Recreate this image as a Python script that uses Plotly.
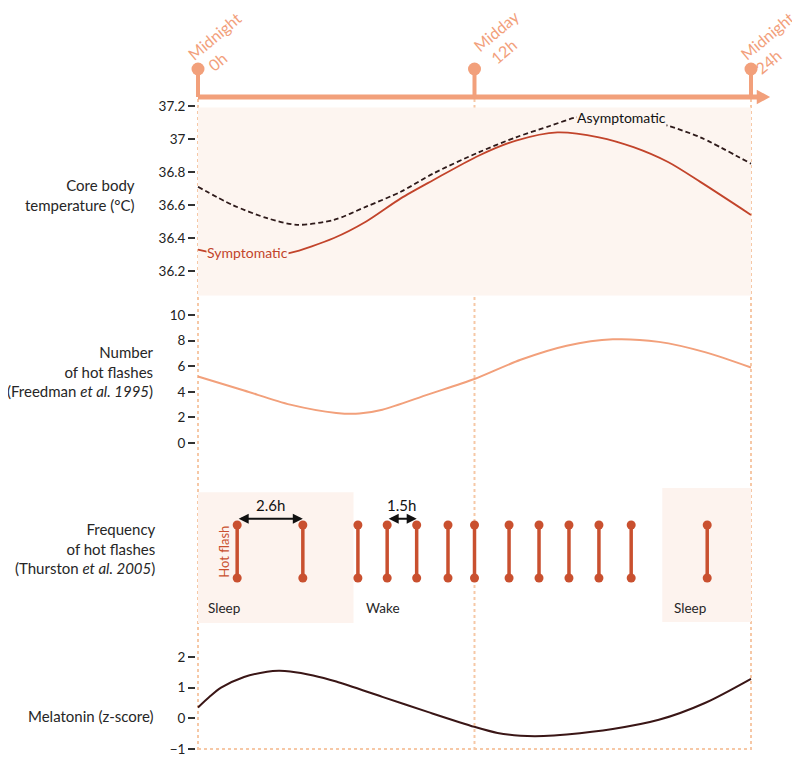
import plotly.graph_objects as go

W, H = 800, 757

# ---------------- data ----------------
tl_hours = [0, 12, 24]
tl_names = ["Midnight", "Midday", "Midnight"]
tl_hour_labels = ["0h", "12h", "24h"]

temp_ticks = [36.2, 36.4, 36.6, 36.8, 37.0, 37.2]
temp_tick_labels = ["36.2", "36.4", "36.6", "36.8", "37", "37.2"]
asym_h = [0, 1.5, 3.0, 4.3, 5.9, 7.3, 8.8, 10.2, 12.2, 13.8, 15.3, 16.4, 18.3, 20.4, 21.8, 24]
asym_t = [36.71, 36.60, 36.52, 36.48, 36.51, 36.59, 36.68, 36.79, 36.92, 37.01, 37.08, 37.13, 37.16, 37.08, 37.01, 36.85]
sym_h = [0, 1, 2, 3, 4, 5.9, 7.3, 8.8, 10.2, 12.2, 13.8, 15.6, 17.4, 18.9, 20.4, 21.8, 24]
sym_t = [36.33, 36.30, 36.29, 36.295, 36.31, 36.40, 36.50, 36.64, 36.75, 36.90, 36.99, 37.04, 37.01, 36.95, 36.86, 36.74, 36.54]

hf_ticks = [0, 2, 4, 6, 8, 10]
freed_h = [0, 2, 4, 6, 7, 8, 10, 12, 14, 16, 18, 20, 22, 24]
freed_n = [5.2, 4.1, 3.0, 2.35, 2.3, 2.6, 3.8, 5.0, 6.5, 7.6, 8.1, 7.9, 7.1, 5.9]

flash_h = [1.70, 4.55, 6.94, 8.21, 9.49, 10.85, 12.0, 13.5, 14.8, 16.1, 17.4, 18.8, 22.1]
sleep_periods = [(0, 6.75), (20.15, 24)]
interval_pairs = [(0, 1), (3, 4)]
interval_labels = ["2.6h", "1.5h"]

mel_ticks = [-1, 0, 1, 2]
mel_h = [0, 0.5, 1, 2, 3, 3.5, 4, 5, 6, 8, 10, 12, 13, 14, 15, 16, 18, 20, 22, 24]
mel_z = [0.35, 0.7, 1.0, 1.35, 1.52, 1.55, 1.53, 1.4, 1.2, 0.7, 0.2, -0.28, -0.48, -0.57, -0.58, -0.53, -0.35, -0.05, 0.5, 1.29]

# ---------------- styling ----------------
TL = "#f2a07b"
DOT = "#f6c8a6"
SHADE = "#fdf5f0"
SLEEP = "#fdf3ee"
RED = "#c2442b"
FLASH = "#c9502f"
DARK = "#2e1a1a"
MEL = "#3a1616"
TXT = "#262626"
FONT = "Lato"

OX, OY = 8, 8  # page offset of the figure (body margin)
X0_PX, X24_PX = 198, 751
PPH = (X24_PX - X0_PX) / 24
XR = [-0.5, 25.2]
xdom = [(X0_PX - OX + XR[0] * PPH) / W, (X0_PX - OX + XR[1] * PPH) / W]


def ydom(top_px, bot_px):
    return [1 - (bot_px - OY) / H, 1 - (top_px - OY) / H]


def py(px):
    return 1 - (px - OY) / H


def pxx(px):
    return (px - OX) / W


fig = go.Figure()

# timeline
fig.add_trace(go.Scatter(x=[0, 24.3], y=[0, 0], mode="lines", line=dict(color=TL, width=5),
                         yaxis="y5", hoverinfo="skip"))
sx, sy = [], []
for h in tl_hours:
    sx += [h, h, None]
    sy += [0, 1, None]
fig.add_trace(go.Scatter(x=sx, y=sy, mode="lines", line=dict(color=TL, width=4), yaxis="y5", hoverinfo="skip"))
fig.add_trace(go.Scatter(x=tl_hours, y=[1] * len(tl_hours), mode="markers", marker=dict(color=TL, size=13),
                         yaxis="y5", cliponaxis=False, hoverinfo="skip"))

# temperature
fig.add_trace(go.Scatter(x=asym_h, y=asym_t, mode="lines", line=dict(color=DARK, width=1.8, dash="5px,3px",
                         shape="spline", smoothing=0.8), yaxis="y"))
fig.add_trace(go.Scatter(x=sym_h, y=sym_t, mode="lines", line=dict(color=RED, width=1.8,
                         shape="spline", smoothing=0.8), yaxis="y"))

# hot flashes count
fig.add_trace(go.Scatter(x=freed_h, y=freed_n, mode="lines", line=dict(color=TL, width=2,
                         shape="spline", smoothing=0.8), yaxis="y2"))

# frequency of hot flashes
fx, fy = [], []
for h in flash_h:
    fx += [h, h, None]
    fy += [0, 1, None]
fig.add_trace(go.Scatter(x=fx, y=fy, mode="lines+markers", line=dict(color=FLASH, width=3.5),
                         marker=dict(color=FLASH, size=9), yaxis="y3", cliponaxis=False))

# melatonin
fig.add_trace(go.Scatter(x=mel_h, y=mel_z, mode="lines", line=dict(color=MEL, width=2,
                         shape="spline", smoothing=0.8), yaxis="y4"))

shapes = []
shapes.append(dict(type="rect", xref="x", yref="y", x0=0, x1=24, y0=36.05, y1=37.19,
                   fillcolor=SHADE, line=dict(width=0), layer="below"))
sleep_tops = [1.62, 1.70]
sleep_bots = [-0.85, -0.83]
for (a, b), t, bt in zip(sleep_periods, sleep_tops, sleep_bots):
    shapes.append(dict(type="rect", xref="x", yref="y3", x0=a, x1=b, y0=bt, y1=t,
                       fillcolor=SLEEP, line=dict(width=0), layer="below"))
for h in tl_hours:
    shapes.append(dict(type="line", xref="x", yref="paper", x0=h, x1=h, y0=py(750), y1=py(98),
                       line=dict(color=DOT, width=2, dash="dot"), layer="below"))
shapes.append(dict(type="line", xref="x", yref="y4", x0=0, x1=24, y0=-1, y1=-1,
                   line=dict(color=DOT, width=2, dash="dot"), layer="below"))
shapes.append(dict(type="path", xref="x", yref="y5", path="M 24.25,-0.26 L 24.83,0 L 24.25,0.26 Z",
                   fillcolor=TL, line=dict(width=0)))

ann = []
# timeline labels
name_pos = [(17, 36), (22, 31), (16, 35)]
hl_pos = [(19, 61), (30, 51), (17, 61)]
for h, n, l, (nx, ny), (lx, ly) in zip(tl_hours, tl_names, tl_hour_labels, name_pos, hl_pos):
    ann.append(dict(x=h, xref="x", xshift=nx, y=py(ny), yref="paper", text=n, showarrow=False,
                    textangle=-40, font=dict(color=TL, size=16), xanchor="center", yanchor="middle"))
    ann.append(dict(x=h, xref="x", xshift=lx, y=py(ly), yref="paper", text=l, showarrow=False,
                    textangle=-40, font=dict(color=TL, size=16), xanchor="center", yanchor="middle"))

# temperature curve labels
ann.append(dict(x=18.4, y=37.127, xref="x", yref="y", text="Asymptomatic", showarrow=False,
                font=dict(color="#111", size=14), bgcolor=SHADE, borderpad=0))
ann.append(dict(x=2.13, y=36.309, xref="x", yref="y", text="Symptomatic", showarrow=False,
                font=dict(color=RED, size=14), bgcolor=SHADE, borderpad=0))

# interval arrows
for (i, j), lab in zip(interval_pairs, interval_labels):
    ann.append(dict(x=flash_h[j], y=1.12, ax=flash_h[i], ay=1.12, xref="x", yref="y3", axref="x", ayref="y3",
                    text="", showarrow=True, arrowhead=2, startarrowhead=2, arrowside="end+start",
                    arrowwidth=2, arrowsize=1, startarrowsize=1, arrowcolor="#111"))
    ann.append(dict(x=(flash_h[i] + flash_h[j]) / 2, y=1.12, xref="x", yref="y3", yshift=14, text=lab,
                    showarrow=False, font=dict(color="#111", size=15)))
ann.append(dict(x=flash_h[0], xshift=-14, y=0.5, xref="x", yref="y3", text="Hot flash", textangle=-90,
                showarrow=False, font=dict(color=FLASH, size=13)))
ann.append(dict(x=sleep_periods[0][0], xshift=8, y=-0.57, xref="x", yref="y3", text="Sleep", xanchor="left",
                showarrow=False, font=dict(color=TXT, size=13.5)))
ann.append(dict(x=sleep_periods[0][1], xshift=10, y=-0.57, xref="x", yref="y3", text="Wake", xanchor="left",
                showarrow=False, font=dict(color=TXT, size=13.5)))
ann.append(dict(x=sleep_periods[1][0], xshift=10, y=-0.57, xref="x", yref="y3", text="Sleep", xanchor="left",
                showarrow=False, font=dict(color=TXT, size=13.5)))

# left titles
titles = [
    ("Core body<br>temperature (°C)", 137, 195),
    ("Number<br>of hot flashes<br>(Freedman <i>et al. 1995</i>)", 156, 372),
    ("Frequency<br>of hot flashes<br>(Thurston <i>et al. 2005</i>)", 158, 548),
    ("Melatonin (z-score)", 156, 716),
]
for t, xr, yc in titles:
    ann.append(dict(x=pxx(xr), y=py(yc), xref="paper", yref="paper", text=t, showarrow=False,
                    xanchor="right", yanchor="middle", align="right", font=dict(color=TXT, size=15)))

yax_common = dict(anchor="free", position=pxx(195), showgrid=False, zeroline=False, showline=False,
                  ticks="outside", ticklen=7, tickwidth=2, tickcolor="#333", automargin=False,
                  tickfont=dict(family=FONT, size=13.5, color="#222"))

fig.update_layout(
    width=W, height=H, margin=dict(l=0, r=0, t=0, b=0, autoexpand=False),
    paper_bgcolor="white", plot_bgcolor="rgba(0,0,0,0)",
    showlegend=False, font=dict(family=FONT, color=TXT),
    xaxis=dict(domain=xdom, range=XR, visible=False, fixedrange=True, automargin=False),
    yaxis=dict(domain=ydom(104.3, 295.75), range=[36.05, 37.21], tickvals=temp_ticks,
               ticktext=temp_tick_labels, **yax_common),
    yaxis2=dict(domain=ydom(308.6, 449.4), range=[-0.5, 10.5], tickvals=hf_ticks, **yax_common),
    yaxis3=dict(domain=ydom(488, 623), range=[-0.849, 1.698], visible=False, anchor="free",
                position=pxx(195), automargin=False),
    yaxis4=dict(domain=ydom(641.7, 752), range=[-1.1, 2.5], tickvals=mel_ticks, **yax_common),
    yaxis5=dict(domain=ydom(55, 106.8), range=[-0.35, 1.5], visible=False, anchor="free",
                position=pxx(195), automargin=False),
    shapes=shapes, annotations=ann,
)

fig.write_html("out.html")
